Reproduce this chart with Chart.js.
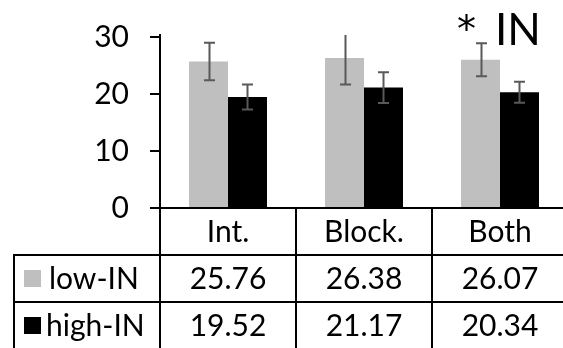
<!DOCTYPE html>
<html>
<head>
<meta charset="utf-8">
<script src="https://cdn.jsdelivr.net/npm/chart.js@4/dist/chart.umd.min.js"></script>
<style>
  html, body { margin: 0; padding: 0; background: #fff; overflow: hidden; }
  #wrap { position: relative; width: 568px; height: 348px; }
</style>
</head>
<body>
<div id="wrap"><canvas id="c"></canvas></div>
<script>
const categories = ['Int.', 'Block.', 'Both'];
const seriesNames = ['low-IN', 'high-IN'];
const lowIN = [25.76, 26.38, 26.07];
const highIN = [19.52, 21.17, 20.34];
const lowErr = [3.3, 4.7, 2.9];
const highErr = [2.2, 2.7, 1.85];
const yTicks = [0, 10, 20, 30];
const annotationMark = '*';
const annotationText = 'IN';

const FONT = 'Lato, "Noto Sans", sans-serif';
const WEIGHT = '400';
const colors = ['#bfbfbf', '#000000'];
const errs = [lowErr, highErr];

const errorBarPlugin = {
  id: 'errorBars',
  afterDatasetsDraw(chart) {
    const ctx = chart.ctx, area = chart.chartArea, y = chart.scales.y;
    ctx.save();
    ctx.beginPath();
    ctx.rect(area.left, area.top, area.right - area.left, area.bottom - area.top);
    ctx.clip();
    ctx.strokeStyle = '#595959';
    ctx.lineWidth = 2;
    chart.data.datasets.forEach((ds, di) => {
      const meta = chart.getDatasetMeta(di);
      meta.data.forEach((bar, i) => {
        const v = ds.data[i], e = errs[di][i];
        const x = Math.round(bar.x) + 0.5;
        const yt = y.getPixelForValue(v + e), yb = y.getPixelForValue(v - e);
        ctx.beginPath();
        ctx.moveTo(x, yt); ctx.lineTo(x, yb);
        ctx.moveTo(x - 5.5, yt); ctx.lineTo(x + 5.5, yt);
        ctx.moveTo(x - 5.5, yb); ctx.lineTo(x + 5.5, yb);
        ctx.stroke();
      });
    });
    ctx.restore();
  }
};

const tablePlugin = {
  id: 'dataTable',
  afterDraw(chart) {
    const ctx = chart.ctx, area = chart.chartArea, xs = chart.scales.x;
    const step = (area.right - area.left) / categories.length;
    const top = area.bottom;
    const rowH = 47;
    const r1 = top + rowH, r2 = r1 + rowH, r3 = r2 + rowH;
    const leftEdge = 14;
    ctx.save();
    ctx.strokeStyle = '#000';
    ctx.lineWidth = 2;
    ctx.beginPath();
    ctx.moveTo(area.left, top); ctx.lineTo(area.right + 2, top);
    ctx.moveTo(leftEdge, r1); ctx.lineTo(area.right + 2, r1);
    ctx.moveTo(leftEdge, r2); ctx.lineTo(area.right + 2, r2);
    ctx.moveTo(leftEdge, r3); ctx.lineTo(area.right + 2, r3);
    ctx.moveTo(leftEdge, r1 - 1); ctx.lineTo(leftEdge, r3 + 1);
    for (let i = 0; i <= categories.length; i++) {
      const x = area.left + i * step;
      ctx.moveTo(x, top - 1); ctx.lineTo(x, r3 + 1);
    }
    ctx.stroke();

    ctx.fillStyle = '#000';
    ctx.font = WEIGHT + ' 30px ' + FONT;
    ctx.textAlign = 'center';
    ctx.textBaseline = 'middle';
    categories.forEach((c, i) => {
      const cx = xs.getPixelForValue(i);
      ctx.fillText(c, cx, (top + r1) / 2 + 1);
      ctx.fillText(lowIN[i].toFixed(2), cx, (r1 + r2) / 2 + 1);
      ctx.fillText(highIN[i].toFixed(2), cx, (r2 + r3) / 2 + 1);
    });
    const rows = [[r1, r2], [r2, r3]];
    ctx.textAlign = 'left';
    seriesNames.forEach((name, k) => {
      const cy = (rows[k][0] + rows[k][1]) / 2;
      ctx.fillStyle = colors[k];
      ctx.fillRect(24, cy - 8.5, 17, 17);
      ctx.fillStyle = '#000';
      ctx.fillText(name, k === 0 ? 49 : 46, cy + 1);
    });
    ctx.textBaseline = 'alphabetic';
    ctx.font = '38px "DejaVu Sans", sans-serif';
    ctx.fillText(annotationMark, 457, 42);
    ctx.font = '400 44px ' + FONT;
    ctx.fillText(annotationText, 495, 45);
    ctx.restore();
  }
};

new Chart(document.getElementById('c'), {
  type: 'bar',
  data: {
    labels: categories,
    datasets: [
      { label: seriesNames[0], data: lowIN, backgroundColor: colors[0], borderWidth: 0 },
      { label: seriesNames[1], data: highIN, backgroundColor: colors[1], borderWidth: 0 }
    ]
  },
  plugins: [errorBarPlugin, tablePlugin],
  options: {
    responsive: true,
    maintainAspectRatio: false,
    animation: false,
    devicePixelRatio: 1,
    layout: { padding: { top: 35, bottom: 140, left: 0, right: 0 } },
    datasets: { bar: { categoryPercentage: 0.5735, barPercentage: 1 } },
    plugins: { legend: { display: false }, tooltip: { enabled: false } },
    scales: {
      x: { display: false },
      y: {
        min: 0,
        max: 30.4,
        afterBuildTicks(scale) {
          scale.ticks = yTicks.map(v => ({ value: v }));
        },
        afterFit(scale) {
          scale.width = 160;
          scale.paddingTop = 0;
          scale.paddingBottom = 0;
        },
        border: { display: true, color: '#000', width: 2 },
        grid: { drawOnChartArea: false, tickLength: 10, color: '#000', lineWidth: 2 },
        ticks: {
          padding: 21,
          color: '#000',
          font: { family: FONT, size: 30, weight: WEIGHT },
          callback: v => String(v)
        }
      }
    }
  }
});
</script>
</body>
</html>
